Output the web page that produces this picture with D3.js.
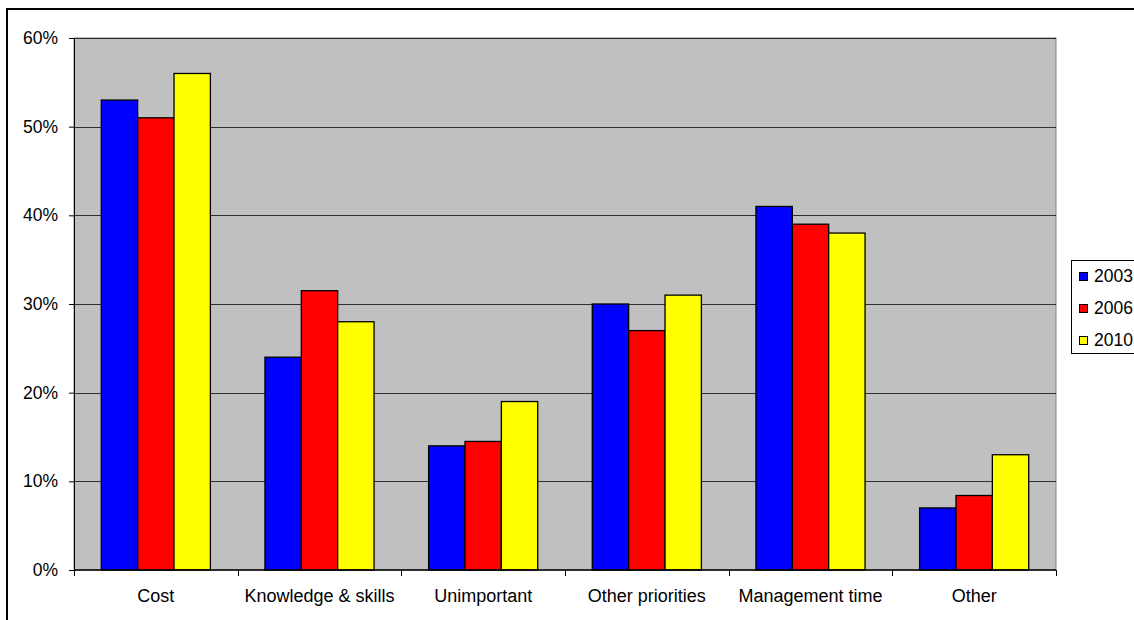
<!DOCTYPE html>
<html>
<head>
<meta charset="utf-8">
<script src="https://cdn.jsdelivr.net/npm/d3@7"></script>
<style>
  html, body { margin: 0; padding: 0; background: #fff; }
  svg { display: block; font-family: "Liberation Sans", Arial, sans-serif; }
</style>
</head>
<body>
<svg id="chart" width="1134" height="620"></svg>
<script>
// Reasons cited, share of respondents by survey year
const categories = ["Cost", "Knowledge & skills", "Unimportant", "Other priorities", "Management time", "Other"];
const years = ["2003", "2006", "2010"];
const values2003 = [53, 24, 14, 30, 41, 7];
const values2006 = [51, 31.5, 14.5, 27, 39, 8.4];
const values2010 = [56, 28, 19, 31, 38, 13];
const yTicks = [0, 10, 20, 30, 40, 50, 60];
const colors = ["#0000ff", "#ff0000", "#ffff00"];

const seriesValues = [values2003, values2006, values2010];

const svg = d3.select("#chart");

// outer chart frame
svg.append("rect")
  .attr("x", 7).attr("y", 9)
  .attr("width", 1140).attr("height", 620)
  .attr("fill", "#fff").attr("stroke", "#000").attr("stroke-width", 2);

const plot = { left: 74, right: 1056, top: 38, bottom: 570 };

const x = d3.scaleBand().domain(categories).range([plot.left, plot.right]);
const bw = x.bandwidth() / 4.5;
const xs = d3.scaleBand().domain(years).range([0.75 * bw, 3.75 * bw]);
const y = d3.scaleLinear().domain([0, 60]).range([plot.bottom, plot.top]);

// plot area
svg.append("rect")
  .attr("x", plot.left).attr("y", plot.top)
  .attr("width", plot.right - plot.left).attr("height", plot.bottom - plot.top)
  .attr("fill", "#c0c0c0").attr("stroke", "#808080").attr("stroke-width", 1);

// gridlines
svg.append("g").selectAll("line")
  .data(yTicks.filter(d => d > 0))
  .join("line")
  .attr("x1", plot.left).attr("x2", plot.right)
  .attr("y1", d => Math.round(y(d)) + 0.5).attr("y2", d => Math.round(y(d)) + 0.5)
  .attr("stroke", "#000").attr("stroke-width", 1).attr("opacity", 0.75);

// bars
const groups = svg.append("g").selectAll("g")
  .data(years)
  .join("g")
  .attr("fill", (d, i) => colors[i]);

groups.selectAll("rect")
  .data((yr, i) => seriesValues[i].map((v, j) => ({ cat: categories[j], yr, v })))
  .join("rect")
  .attr("x", d => x(d.cat) + xs(d.yr))
  .attr("y", d => y(d.v))
  .attr("width", xs.bandwidth())
  .attr("height", d => y(0) - y(d.v))
  .attr("stroke", "#000").attr("stroke-width", 1.3);

// y axis
const yAxis = d3.axisLeft(y).tickValues(yTicks).tickFormat(d => d + "%").tickSize(5).tickPadding(11);
const gy = svg.append("g").attr("transform", `translate(${plot.left},0)`).call(yAxis);
gy.attr("font-size", null).attr("font-family", null);
gy.select(".domain").attr("stroke", "#000");
gy.selectAll(".tick line").attr("stroke", "#000");
gy.selectAll("text").style("font-size", "17.5px").attr("fill", "#000")
  .style("font-family", "'Liberation Sans', Arial, sans-serif");

// x axis with ticks between categories
const gx = svg.append("g").attr("transform", `translate(0,${plot.bottom})`);
gx.append("line")
  .attr("x1", plot.left).attr("x2", plot.right)
  .attr("stroke", "#000").attr("stroke-width", 1.3);
const bounds = categories.map(c => x(c)).concat([plot.right]);
gx.selectAll("line.tick")
  .data(bounds)
  .join("line").attr("class", "tick")
  .attr("x1", d => Math.round(d) + 0.5).attr("x2", d => Math.round(d) + 0.5)
  .attr("y1", 0).attr("y2", 6)
  .attr("stroke", "#000");
gx.selectAll("text")
  .data(categories)
  .join("text")
  .attr("x", d => x(d) + x.bandwidth() / 2)
  .attr("y", 32)
  .attr("text-anchor", "middle")
  .style("font-size", "18px")
  .attr("fill", "#000")
  .text(d => d);

// legend
const lg = svg.append("g").attr("transform", "translate(1071,260)");
lg.append("rect")
  .attr("x", 0.5).attr("y", 0.5)
  .attr("width", 80).attr("height", 93)
  .attr("fill", "#fff").attr("stroke", "#000").attr("stroke-width", 1);
const items = lg.selectAll("g.item")
  .data(years)
  .join("g").attr("class", "item")
  .attr("transform", (d, i) => `translate(0,${16 + i * 32})`);
items.append("rect")
  .attr("x", 8.5).attr("y", -3.5).attr("width", 8).attr("height", 8)
  .attr("fill", (d, i) => colors[i]).attr("stroke", "#000").attr("stroke-width", 1);
items.append("text")
  .attr("x", 23).attr("y", 5.5)
  .style("font-size", "17.5px").attr("fill", "#000")
  .text(d => d);
</script>
</body>
</html>
